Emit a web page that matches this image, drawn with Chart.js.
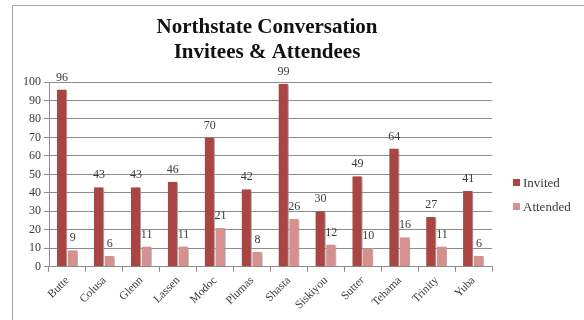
<!DOCTYPE html>
<html>
<head>
<meta charset="utf-8">
<script src="https://cdn.jsdelivr.net/npm/chart.js@4"></script>
<style>
  html, body { margin: 0; padding: 0; background: #fff; overflow: hidden; }
  #wrap { position: relative; width: 584px; height: 320px; }
  #frame { position: absolute; left: 12px; top: 5px; width: 700px; height: 500px; border: 1px solid #a6a6a6; box-sizing: border-box; }
  canvas { position: absolute; left: 0; top: 0; }
</style>
</head>
<body>
<div id="wrap">
  <div id="frame"></div>
  <canvas id="chart" width="584" height="320"></canvas>
</div>
<script>
// data
const counties = ['Butte', 'Colusa', 'Glenn', 'Lassen', 'Modoc', 'Plumas', 'Shasta', 'Siskiyou', 'Sutter', 'Tehama', 'Trinity', 'Yuba'];
const invited = [96, 43, 43, 46, 70, 42, 99, 30, 49, 64, 27, 41];
const attended = [9, 6, 11, 11, 21, 8, 26, 12, 10, 16, 11, 6];
const titleLines = ['Northstate Conversation', 'Invitees & Attendees'];

const serif = "'Liberation Serif', 'DejaVu Serif', serif";
const textColor = '#3a3a3a';
const invitedColor = '#A94644';
const attendedColor = '#D6918F';

// soft drop shadow behind bars, like the office chart
const barShadow = {
    id: 'barShadow',
    beforeDatasetsDraw(chart) {
        const c = chart.ctx;
        c.save();
        c.shadowColor = 'rgba(0,0,0,0.35)';
        c.shadowBlur = 3;
        c.shadowOffsetX = 2;
        c.shadowOffsetY = 1;
    },
    afterDatasetsDraw(chart) {
        chart.ctx.restore();
    }
};

// value labels above each bar
const valueLabels = {
    id: 'valueLabels',
    afterDatasetsDraw(chart) {
        const c = chart.ctx;
        c.save();
        c.font = '12px ' + serif;
        c.fillStyle = textColor;
        c.textAlign = 'center';
        c.textBaseline = 'bottom';
        chart.data.datasets.forEach((ds, i) => {
            chart.getDatasetMeta(i).data.forEach((bar, j) => {
                c.fillText(ds.data[j], bar.x, bar.y - 6);
            });
        });
        c.restore();
    }
};

// title is centred over the plot (not the canvas) and legend sits low on the right,
// so both are drawn here instead of by the built-in plugins
const titleAndLegend = {
    id: 'titleAndLegend',
    afterDraw(chart) {
        const c = chart.ctx;
        const area = chart.chartArea;
        c.save();
        c.fillStyle = '#111';
        c.font = 'bold 21px ' + serif;
        c.textAlign = 'center';
        c.textBaseline = 'alphabetic';
        c.fillText(titleLines[0], 267, 33);
        c.fillText(titleLines[1], 267, 58);

        c.font = '13px ' + serif;
        c.textAlign = 'left';
        chart.data.datasets.forEach((ds, i) => {
            const y = 187 + i * 24;
            c.fillStyle = ds.backgroundColor;
            c.fillRect(area.right + 21, y - 8, 7, 7);
            c.fillStyle = textColor;
            c.fillText(ds.label, area.right + 31, y);
        });
        c.restore();
    }
};

new Chart(document.getElementById('chart'), {
    type: 'bar',
    data: {
        labels: counties,
        datasets: [
            {
                label: 'Invited',
                data: invited,
                backgroundColor: invitedColor,
                borderColor: '#ecd8d8',
                borderWidth: { left: 0, right: 1, top: 0, bottom: 0 },
                categoryPercentage: 0.58,
                barPercentage: 0.96
            },
            {
                label: 'Attended',
                data: attended,
                backgroundColor: attendedColor,
                borderColor: '#f2e4e4',
                borderWidth: { left: 0, right: 1, top: 0, bottom: 0 },
                categoryPercentage: 0.58,
                barPercentage: 0.96
            }
        ]
    },
    options: {
        responsive: false,
        animation: false,
        layout: { padding: { left: 20, right: 92, top: 82, bottom: 6 } },
        plugins: {
            title: { display: false },
            legend: { display: false },
            tooltip: { enabled: false }
        },
        scales: {
            x: {
                grid: {
                    display: true,
                    drawOnChartArea: false,
                    drawTicks: true,
                    tickLength: 5,
                    offset: true,
                    color: '#8c8c8c'
                },
                border: { color: '#8c8c8c' },
                ticks: {
                    color: textColor,
                    font: { family: serif, size: 11.5 },
                    minRotation: 45,
                    maxRotation: 45,
                    padding: 2
                }
            },
            y: {
                min: 0,
                max: 100,
                grid: {
                    color: '#8c8c8c',
                    tickLength: 5
                },
                border: { color: '#8c8c8c' },
                ticks: {
                    stepSize: 10,
                    color: textColor,
                    font: { family: serif, size: 12 },
                    padding: 3
                }
            }
        }
    },
    plugins: [barShadow, valueLabels, titleAndLegend]
});
</script>
</body>
</html>
